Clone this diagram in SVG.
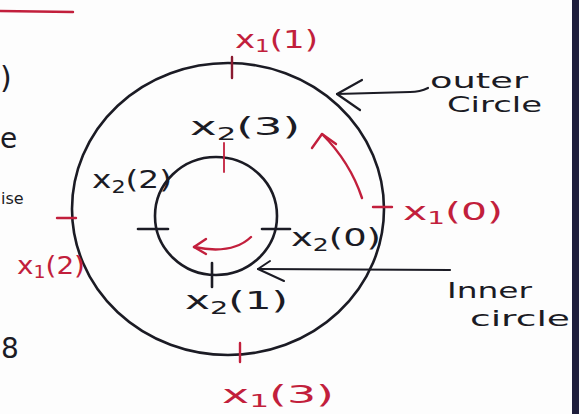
<svg xmlns="http://www.w3.org/2000/svg" width="579" height="414" viewBox="0 0 579 414">
<style>
.ink{stroke:#1b1b24;fill:none;stroke-width:2.6;stroke-linecap:round;stroke-linejoin:round}
.red{stroke:#c21f3c;fill:none;stroke-width:2.4;stroke-linecap:round;stroke-linejoin:round}
.lbl{font-family:"DejaVu Sans","Liberation Sans",sans-serif;font-size:25px}
.note{font-family:"DejaVu Sans","Liberation Sans",sans-serif;font-size:22px;fill:#1b1b24}
.rt{fill:#c21f3c}
.bt{fill:#1b1b24}
.sub{font-size:17px}
</style>
<rect width="579" height="414" fill="#fdfdfd"/>
<rect x="572" y="0" width="7" height="414" fill="#1e1e3c"/>
<line x1="0" y1="11" x2="73" y2="12" class="red"/>

<g id="fragments">
<text x="0" y="88" class="note" style="font-size:30px">)</text>
<text x="0" y="148" class="note" style="font-size:28px">e</text>
<text x="1" y="204" class="note" style="font-size:16px">ise</text>
<text x="1" y="358" class="note" style="font-size:28px">8</text>
</g>

<g id="outer-circle">
<ellipse cx="228" cy="209" rx="156" ry="146" class="ink"/>
<line x1="232" y1="57" x2="232" y2="78" class="red" style="stroke:#8a1a30"/>
<line x1="373" y1="207" x2="392" y2="207" class="red"/>
<line x1="57" y1="218" x2="76" y2="218" class="red"/>
<line x1="240" y1="343" x2="240" y2="362" class="red"/>
</g>

<g id="inner-circle">
<ellipse cx="216" cy="216" rx="61" ry="59" class="ink"/>
<line x1="224" y1="143" x2="224" y2="172" class="red" style="stroke-width:1.8"/>
<line x1="262" y1="229" x2="290" y2="229" class="ink"/>
<line x1="138" y1="229" x2="168" y2="229" class="ink"/>
<line x1="212" y1="263" x2="212" y2="287" class="ink"/>
</g>

<g id="labels">
<text x="235" y="48" class="lbl rt" textLength="83" lengthAdjust="spacingAndGlyphs">x<tspan class="sub" dy="4">1</tspan><tspan dy="-4">(1)</tspan></text>
<text x="403" y="220" class="lbl rt" textLength="100" lengthAdjust="spacingAndGlyphs">x<tspan class="sub" dy="4">1</tspan><tspan dy="-4">(0)</tspan></text>
<text x="17" y="274" class="lbl rt" textLength="68" lengthAdjust="spacingAndGlyphs">x<tspan class="sub" dy="4">1</tspan><tspan dy="-4">(2)</tspan></text>
<text x="222" y="403" class="lbl rt" textLength="112" lengthAdjust="spacingAndGlyphs">x<tspan class="sub" dy="4">1</tspan><tspan dy="-4">(3)</tspan></text>
<text x="190" y="135" class="lbl bt" textLength="110" lengthAdjust="spacingAndGlyphs">x<tspan class="sub" dy="5">2</tspan><tspan dy="-5">(3)</tspan></text>
<text x="92" y="188" class="lbl bt" textLength="80" lengthAdjust="spacingAndGlyphs">x<tspan class="sub" dy="5">2</tspan><tspan dy="-5">(2)</tspan></text>
<text x="291" y="246" class="lbl bt" textLength="90" lengthAdjust="spacingAndGlyphs">x<tspan class="sub" dy="5">2</tspan><tspan dy="-5">(0)</tspan></text>
<text x="185" y="309" class="lbl bt" textLength="103" lengthAdjust="spacingAndGlyphs">x<tspan class="sub" dy="5">2</tspan><tspan dy="-5">(1)</tspan></text>
<text x="430" y="88" class="note" textLength="98" lengthAdjust="spacingAndGlyphs">outer</text>
<text x="447" y="112" class="note" textLength="95" lengthAdjust="spacingAndGlyphs">Circle</text>
<text x="447" y="298" class="note" textLength="85" lengthAdjust="spacingAndGlyphs">Inner</text>
<text x="470" y="326" class="note" textLength="100" lengthAdjust="spacingAndGlyphs">circle</text>
</g>

<g id="connectors">
<path d="M362 198 Q350 162 322 134" class="red"/>
<path d="M312 148 L322 134 L336 144" class="red"/>
<path d="M251 237 Q232 255 194 247" class="red"/>
<path d="M206 239 L194 247 L206 254" class="red"/>
<path d="M428 88 Q420 92 410 92 L337 94" class="ink" style="stroke-width:2.2"/>
<path d="M362 80 L337 94 L360 110" class="ink" style="stroke-width:2.2"/>
<path d="M450 270 L258 269" class="ink" style="stroke-width:2.2"/>
<path d="M270 261 L258 269 L284 281" class="ink" style="stroke-width:2"/>
</g>
</svg>
